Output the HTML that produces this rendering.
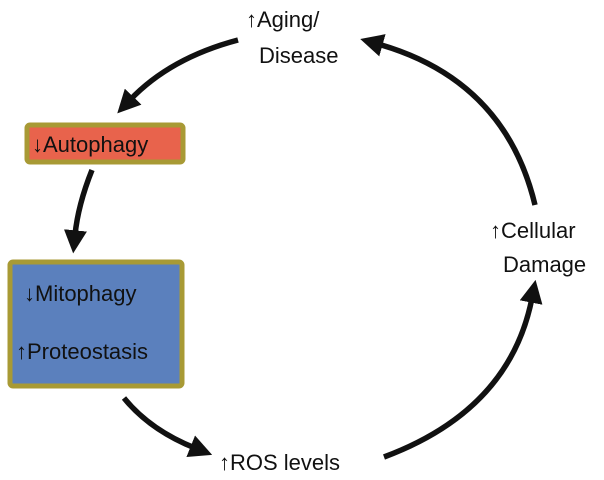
<!DOCTYPE html>
<html><head><style>
body{margin:0;background:#fff;}
svg{display:block;}
text{font-family:"Liberation Sans",Arial,sans-serif;fill:#111;}
</style></head><body>
<svg width="604" height="480" viewBox="0 0 604 480">
<defs>
<marker id="a" viewBox="0 0 10 10" refX="2" refY="5" markerWidth="4.2" markerHeight="4.2" orient="auto" markerUnits="strokeWidth">
<path d="M0,0 L10,5 L0,10 z" fill="#111"/>
</marker>
</defs>
<g fill="none" stroke="#111" stroke-width="5.5">
<path d="M238,40 Q170,58 130,100" marker-end="url(#a)"/>
<path d="M92,170 Q78,205 75,235" marker-end="url(#a)"/>
<path d="M124,398 Q150,430 195,448" marker-end="url(#a)"/>
<path d="M384,457 Q510,410 532,298" marker-end="url(#a)"/>
<path d="M535,205 Q505,80 378,44" marker-end="url(#a)"/>
</g>
<rect x="27" y="125" width="156" height="37" rx="3" fill="#e8634c" stroke="#a89a35" stroke-width="5"/>
<rect x="10" y="262" width="172" height="124" rx="3" fill="#5b80bd" stroke="#a89a35" stroke-width="5"/>
<g font-size="22">
<text x="32" y="152">↓Autophagy</text>
<text x="24" y="301">↓Mitophagy</text>
<text x="16" y="359">↑Proteostasis</text>
<text x="246" y="27">↑Aging/</text>
<text x="259" y="63">Disease</text>
<text x="490" y="238">↑Cellular</text>
<text x="503" y="272">Damage</text>
<text x="219" y="470">↑ROS levels</text>
</g>
</svg>
</body></html>
